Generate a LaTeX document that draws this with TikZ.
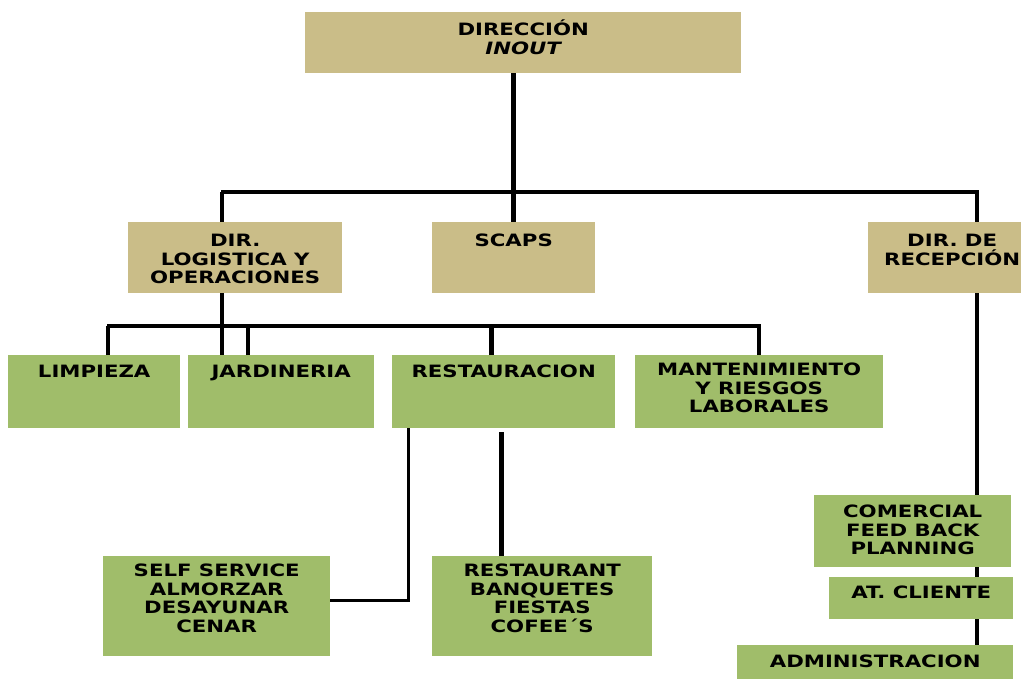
\documentclass[tikz,border=0pt]{standalone}
\usepackage{fontspec}
\setmainfont{DejaVu Sans}[FakeStretch=1.25]
\definecolor{tanfill}{RGB}{202,189,136}
\definecolor{leaffill}{RGB}{160,189,106}
\newcommand{\orgfont}{\fontsize{17}{18.5}\selectfont\bfseries}
\tikzset{
    tanbox/.style={fill=tanfill, inner sep=0pt, anchor=north west},
    leafbox/.style={fill=leaffill, inner sep=0pt, anchor=north west},
    boxtext/.style={font=\orgfont, align=center, anchor=north, inner sep=0pt},
    conn/.style={line width=4.5pt, black},
    bus/.style={line width=3.2pt, black, line cap=rect}
}
\begin{document}
\begin{tikzpicture}[x=1pt, y=-1pt]
    \clip (0, 0) rectangle (1021, 679);
    \fill[white] (0, 0) rectangle (1021, 679);

    % direccion y primer nivel
    \node[tanbox, minimum width=436pt, minimum height=61pt] (dir) at (305, 12) {};
    \node[boxtext, yshift=-8pt] (dirtxt) at (dir.north) {DIRECCIÓN\\\itshape INOUT};
    \node[tanbox, minimum width=214pt, minimum height=71pt] (log) at (128, 222) {};
    \node[boxtext, yshift=-12pt] (logtxt) at (log.north) {DIR.\\LOGISTICA Y\\OPERACIONES};
    \node[tanbox, minimum width=163pt, minimum height=71pt] (scaps) at (432, 222) {};
    \node[boxtext, yshift=-12pt] (scapstxt) at (scaps.north) {SCAPS};
    \node[tanbox, minimum width=192pt, minimum height=71pt] (rec) at (868, 222) {};
    \node[boxtext, xshift=-12pt, yshift=-12pt] (rectxt) at (rec.north) {DIR. DE\\RECEPCIÓN};

    % logistica
    \node[leafbox, minimum width=172pt, minimum height=73pt] (limp) at (8, 355) {};
    \node[boxtext, yshift=-10pt] (limptxt) at (limp.north) {LIMPIEZA};
    \node[leafbox, minimum width=186pt, minimum height=73pt] (jard) at (188, 355) {};
    \node[boxtext, yshift=-10pt] (jardtxt) at (jard.north) {JARDINERIA};
    \node[leafbox, minimum width=223pt, minimum height=73pt] (rest) at (392, 355) {};
    \node[boxtext, yshift=-10pt] (resttxt) at (rest.north) {RESTAURACION};
    \node[leafbox, minimum width=248pt, minimum height=73pt] (mant) at (635, 355) {};
    \node[boxtext, yshift=-8pt] (manttxt) at (mant.north) {MANTENIMIENTO\\Y RIESGOS\\LABORALES};

    % restauracion
    \node[leafbox, minimum width=227pt, minimum height=100pt] (self) at (103, 556) {};
    \node[boxtext, yshift=-8pt] (selftxt) at (self.north) {SELF SERVICE\\ALMORZAR\\DESAYUNAR\\CENAR};
    \node[leafbox, minimum width=220pt, minimum height=100pt] (banq) at (432, 556) {};
    \node[boxtext, yshift=-8pt] (banqtxt) at (banq.north) {RESTAURANT\\BANQUETES\\FIESTAS\\COFEE´S};

    % recepcion
    \node[leafbox, minimum width=197pt, minimum height=72pt] (com) at (814, 495) {};
    \node[boxtext, yshift=-10pt] (comtxt) at (com.north) {COMERCIAL\\FEED BACK\\PLANNING};
    \node[leafbox, minimum width=184pt, minimum height=42pt] (cli) at (829, 577) {};
    \node[boxtext, yshift=-9pt] (clitxt) at (cli.north) {AT. CLIENTE};
    \node[leafbox, minimum width=276pt, minimum height=60pt] (adm) at (737, 645) {};
    \node[boxtext, yshift=-10pt] (admtxt) at (adm.north) {ADMINISTRACION};

    % conexiones primer nivel
    \draw[conn] (scaps.north |- dir.south) -- (scaps.north);
    \draw[conn] ([xshift=-13pt]log.north) -- ++(0, -30) coordinate (busa);
    \draw[conn] ([xshift=13pt]rec.north) -- ++(0, -30) coordinate (busb);
    \draw[bus] (busa) -- (busb);

    % conexiones logistica
    \draw[conn] ([xshift=-13pt]log.south) -- ([xshift=-13pt]log.south |- jard.north);
    \draw[conn] ([xshift=14pt]limp.north) -- ++(0, -29) coordinate (busc);
    \draw[conn] (mant.north) -- ++(0, -29) coordinate (busd);
    \draw[bus] (busc) -- (busd);
    \draw[conn] ([xshift=-33pt]jard.north) -- ++(0, -29);
    \draw[conn] ([xshift=-12pt]rest.north) -- ++(0, -29);

    % conexiones restauracion
    \draw[bus, line cap=butt] ([xshift=-95pt]rest.south) |- ([yshift=6pt]self.east);
    \draw[conn] ([xshift=-2pt, yshift=-4pt]rest.south) -- ([xshift=-2pt]rest.south |- banq.north);

    % conexiones recepcion
    \draw[conn] ([xshift=13pt]rec.south) -- ([xshift=13pt]rec.south |- com.north);
    \draw[conn] ([xshift=13pt]rec.south |- com.south) -- ([xshift=13pt]rec.south |- cli.north);
    \draw[conn] ([xshift=13pt]rec.south |- cli.south) -- ([xshift=13pt]rec.south |- adm.north);
\end{tikzpicture}
\end{document}
